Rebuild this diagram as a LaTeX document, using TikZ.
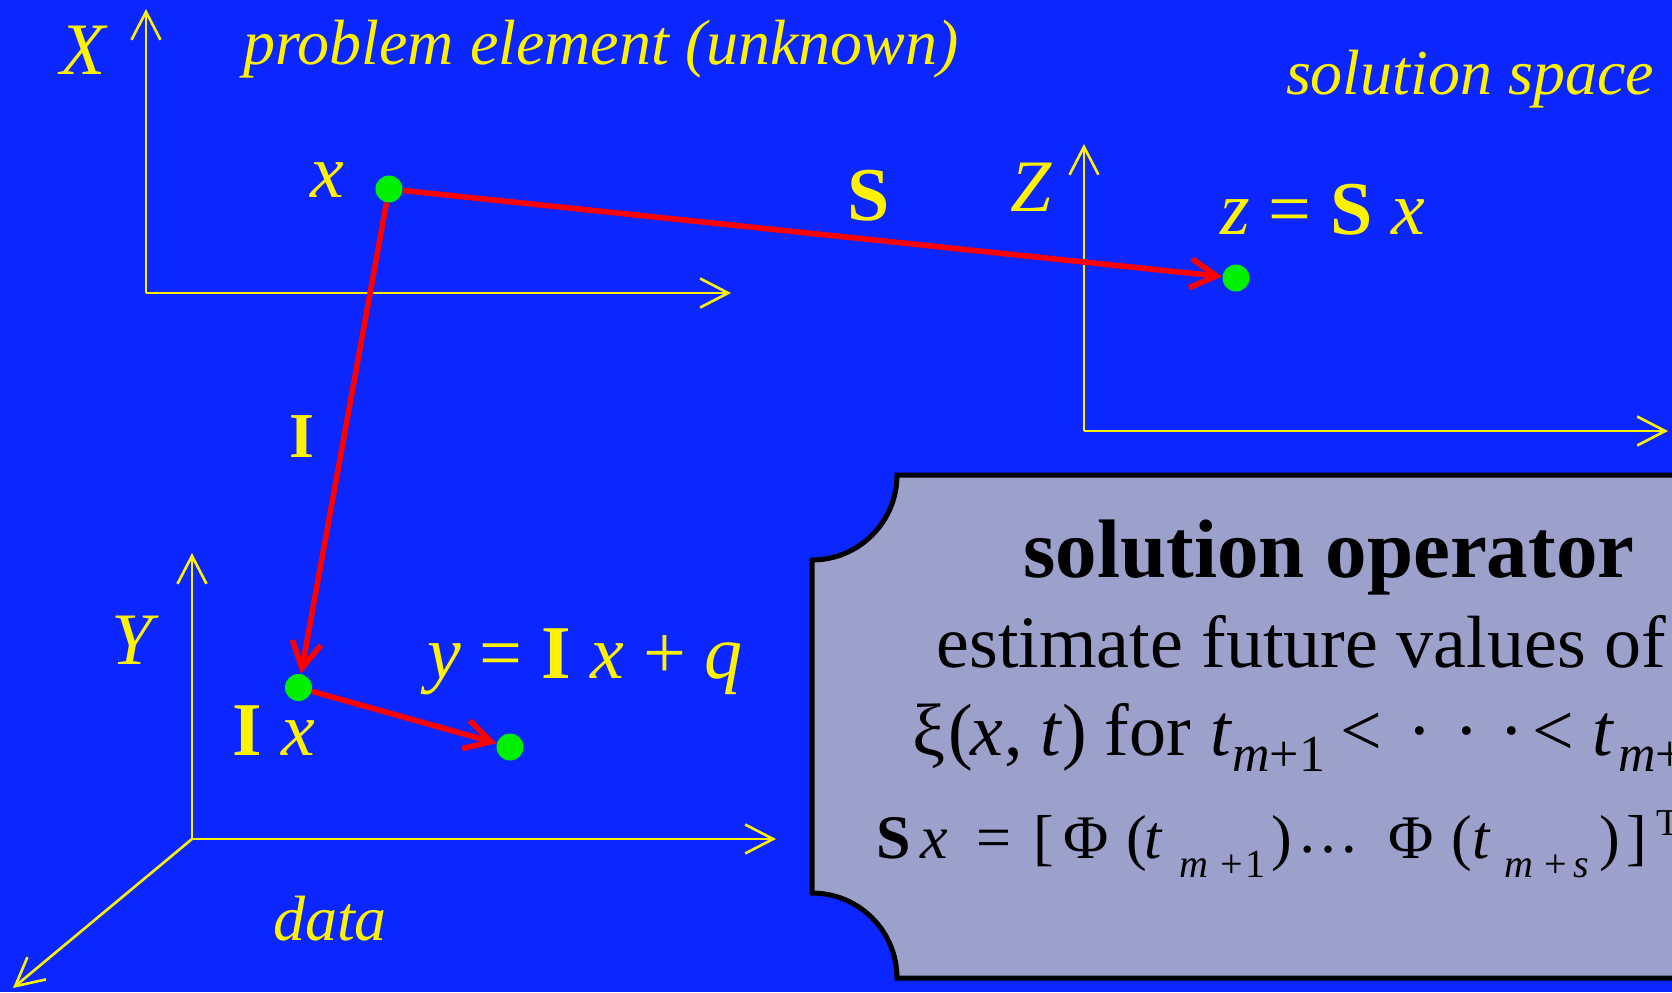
\documentclass[tikz,border=0pt]{standalone}
\usepackage{fontspec}
\setmainfont{Liberation Serif}
\usetikzlibrary{arrows.meta}
\definecolor{bgblue}{RGB}{12,38,255}
\definecolor{boxfill}{RGB}{156,161,204}
\definecolor{dotgreen}{RGB}{0,240,0}
\newcommand\fs[1]{\fontsize{#1}{#1}\selectfont}
\newcommand\putat[2]{\rlap{\hspace{#1}#2}}
\newcommand\subA[1]{\raisebox{-8.3pt}{\fs{26}#1}}
\newcommand\subB[1]{\raisebox{-9.5pt}{\fs{20}#1}}
\begin{document}
\begin{tikzpicture}[x=0.5pt,y=-0.5pt,
  axis/.style={draw=yellow, line width=1.3pt, -{Straight Barb[length=14pt,width=14.5pt]}},
  redarr/.style={draw=red, line width=2.8pt, -{Straight Barb[length=13pt,width=14.5pt]}},
  dotnode/.style={circle, fill=dotgreen, minimum size=13.5pt, inner sep=0pt},
  ylab/.style={text=yellow, inner sep=0pt, anchor=base},
  boxtxt/.style={text=black, inner sep=0pt, anchor=base west}]
\fill[bgblue] (0,0) rectangle (1672,992);
\useasboundingbox (0,0) rectangle (1672,992);
\clip (0,0) rectangle (1672,992);
% axes
\coordinate (Xo) at (146,293); \coordinate (Xt) at (146,9); \coordinate (Xr) at (731,293);
\coordinate (Zo) at (1084,431); \coordinate (Zt) at (1084,144); \coordinate (Zr) at (1668,431);
\coordinate (Yo) at (192,839); \coordinate (Yt) at (192,553); \coordinate (Yr) at (776,839); \coordinate (Yd) at (13,988);
\draw[axis] (Xo) -- (Xt); \draw[axis] (Xo) -- (Xr);
\draw[axis] (Zo) -- (Zt); \draw[axis] (Zo) -- (Zr);
\draw[axis] (Yo) -- (Yt); \draw[axis] (Yo) -- (Yr); \draw[axis] (Yo) -- (Yd);
% labels
\node[ylab, font=\fs{37}\itshape] (lX) at (83,74) {X};
\node[ylab, font=\fs{32}\itshape] (lprob) at (601,64) {problem element (unknown)};
\node[ylab, font=\fs{32}\itshape] (lsol) at (1470,94) {solution space};
\node[ylab, font=\fs{37}\itshape] (lZ) at (1031,211) {Z};
\node[ylab, font=\fs{38}\itshape] (lx) at (327,197) {x};
\node[ylab, font=\fs{38}\bfseries] (lS) at (869,220) {S};
\node[ylab, font=\fs{38}] (lz) at (1323,234) {\textit{z} = \textbf{S} \textit{x}};
\node[ylab, font=\fs{32}\bfseries] (lI) at (302,457) {I};
\node[ylab, font=\fs{37}\itshape] (lY) at (132,664) {Y};
\node[ylab, font=\fs{38}] (lIx) at (274,755) {\textbf{I} \textit{x}};
\node[ylab, font=\fs{38}] (ly) at (585,678) {\textit{y} = \textbf{I} \textit{x} + \textit{q}};
\node[ylab, font=\fs{32}\itshape] (ldata) at (330,940) {data};
% points and maps
\node[dotnode] (px) at (389,189) {};
\node[dotnode] (pz) at (1236,278) {};
\node[dotnode] (pIx) at (298.5,687.5) {};
\node[dotnode] (py) at (510,747) {};
\draw[redarr] (px) -- (pz);
\draw[redarr] (px) -- (pIx);
\draw[redarr] (pIx) -- (py);
% box
\draw[line width=2.5pt, fill=boxfill] (897,475) -- (1720,475) -- (1720,978) -- (897,978)
  .. controls (897,931) and (859,893) .. (812,893) -- (812,560)
  .. controls (859,560) and (897,522) .. (897,475) -- cycle;
\node[boxtxt, font=\fs{41.5}\bfseries] (bt1) at (1023,577) {solution operator};
\node[boxtxt, font=\fs{37}] (bt2) at (936,667) {estimate future values of};
\node[boxtxt, font=\fs{37}] (bt3) at (911,755) {\putat{0pt}{ξ}\putat{18pt}{(}\putat{29pt}{\textit{x}}\putat{46pt}{,}\putat{64pt}{\textit{t}}\putat{75pt}{)}\putat{96pt}{for}\putat{149pt}{\textit{t}}\putat{160pt}{\subA{\textit{m}+1}}\putat{214pt}{<}\putat{247.5pt}{·}\putat{271pt}{·}\putat{293.5pt}{·}\putat{310pt}{<}\putat{340pt}{\textit{t}}\putat{353pt}{\subA{\textit{m}+\textit{s}}}};
\node[boxtxt, font=\fs{31}] (bt4) at (875,858) {\putat{0pt}{\textbf{S}}\putat{22pt}{\textit{x}}\putat{50pt}{=}\putat{78.75pt}{[}\putat{93.5pt}{Φ}\putat{125pt}{(}\putat{134pt}{\textit{t}}\putat{151.5pt}{\subB{\textit{m}}}\putat{172pt}{\subB{+}}\putat{184.5pt}{\subB{1}}\putat{197.5pt}{)}\putat{210.5pt}{\raisebox{3pt}{…}}\putat{256pt}{Φ}\putat{287.5pt}{(}\putat{298pt}{\textit{t}}\putat{314pt}{\subB{\textit{m}}}\putat{334pt}{\subB{+}}\putat{348.5pt}{\subB{\textit{s}}}\putat{361.5pt}{)}\putat{375pt}{]}\putat{390pt}{\raisebox{11.5pt}{\fs{19}T}}};
\end{tikzpicture}
\end{document}
